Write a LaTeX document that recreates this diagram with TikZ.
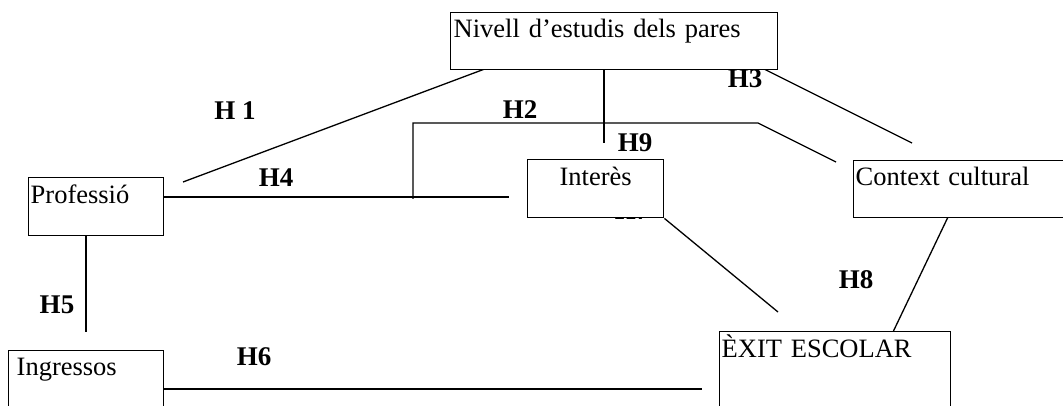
\documentclass[tikz,border=0pt]{standalone}
\usepackage{fontspec}
\setmainfont{Liberation Serif}
\usetikzlibrary{calc,positioning}

\begin{document}
\begin{tikzpicture}[x=1pt, y=-1pt,
	box/.style = {draw, rectangle, fill=white, line width=1.4pt, inner ysep=0pt, inner xsep=3pt, align=left, anchor=north west, font=\fontsize{26.5}{30}\selectfont},
	hyp/.style = {inner sep=0pt, font=\bfseries\fontsize{27}{30}\selectfont},
	link/.style = {line width=1.3pt}]
		\path[use as bounding box, clip] (0,0) rectangle (1063,406);
		% free ends of the connectors
		\coordinate (a1) at (490,67);
		\coordinate (b1) at (183,182);
		\coordinate (e9) at (604,143);
		\coordinate (a3) at (758,66);
		\coordinate (b3) at (912,143);
		\coordinate (a2) at (413,199);
		\coordinate (c2) at (758,123);
		\coordinate (b2) at (836,162);
		\coordinate (e4) at (509,197);
		\coordinate (e7) at (778,312);
		\coordinate (a8) at (948,217);
		\coordinate (b8) at (893,332);
		\coordinate (e5) at (86,332);
		\coordinate (e6) at (702,389);
		% labels
		\node[hyp] (h1) at (235,111) {H 1};
		\node[hyp] (h2) at (520,110) {H2};
		\node[hyp] (h3) at (745,79) {H3};
		\node[hyp] (h9) at (635,143) {H9};
		\node[hyp] (h4) at (276,178) {H4};
		\node[hyp] (h7) at (632,211) {H7};
		\node[hyp] (h5) at (57,305) {H5};
		\node[hyp] (h6) at (254,357) {H6};
		\node[hyp] (h8) at (856,280) {H8};
		% connectors behind the boxes
		\draw[link] (a1) -- (b1);
		\draw[link] (a3) -- (b3);
		\draw[link] (a2) -- (a2 |- c2) -- (c2) -- (b2);
		\draw[link] (a8) -- (b8);
		% boxes
		\node[box, text width=321pt, text height=25pt, text depth=32pt] (pares) at (450,12) {Nivell d’estudis dels pares};
		\node[box, text width=131pt, text height=26pt, text depth=32pt, inner xsep=2pt] (prof) at (28,177) {Professió};
		\node[box, text width=130pt, text height=26pt, text depth=32pt, align=center] (int) at (527,159) {Interès};
		\node[box, text width=216pt, text height=25pt, text depth=32pt, inner xsep=2pt] (ctx) at (853,160) {Context cultural};
		\node[box, text width=139pt, text height=25pt, text depth=70pt, inner xsep=8pt] (ing) at (8,350) {Ingressos};
		\node[box, text width=227pt, text height=26pt, text depth=70pt, inner xsep=2pt] (exit) at (719,331) {ÈXIT ESCOLAR};
		\draw[link] (e9 |- pares.south) -- (e9);
		\draw[link] (prof.east |- e4) -- (e4);
		\draw[link] (int.south east) -- (e7);
		\draw[link] (e5 |- prof.south) -- (e5);
		\draw[link] (ing.east |- e6) -- (e6);
	\end{tikzpicture}
\end{document}
